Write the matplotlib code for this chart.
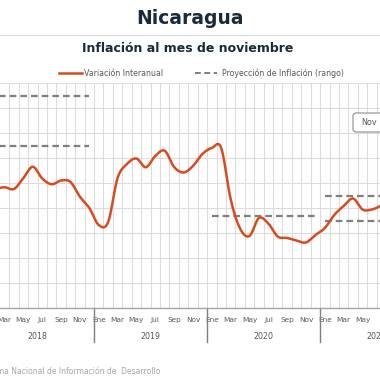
import numpy as np
import matplotlib.pyplot as plt
import matplotlib.transforms as mtransforms
from matplotlib.lines import Line2D
from matplotlib.patches import FancyBboxPatch

# Datos
meses = ['Ene', 'Feb', 'Mar', 'Abr', 'May', 'Jun', 'Jul', 'Ago', 'Sep', 'Oct', 'Nov', 'Dic']
anios = [2018, 2019, 2020, 2021]

# Variación interanual (%), de feb-2018 a jul-2021 (índice 0 = ene-2018)
inicio = 1
variacion = [4.76, 4.83, 4.76, 5.2, 5.65, 5.18, 4.95, 5.1, 5.04, 4.45, 4.0,
             3.32, 3.44, 5.2, 5.76, 5.98, 5.63, 6.08, 6.29, 5.64, 5.42, 5.68, 6.16,
             6.4, 6.4, 4.36, 3.18, 2.88, 3.6, 3.38, 2.86, 2.8, 2.7, 2.62, 2.92,
             3.2, 3.72, 4.08, 4.38, 3.94, 3.94, 4.1]

# Proyección de inflación (rango) por año
proy_anios = [2018, 2020, 2021]
proy_valores = [[6.5, 8.5], [3.7], [3.5, 4.5]]

ROJO = '#d84b20'
GRIS = '#7f7f7f'
TEXTO = '#595959'
AZUL = '#1b2a3a'


def suavizar(y, n=16):
    # curva tipo Catmull-Rom, como la línea suavizada de Excel
    y = np.asarray(y, float)
    yp = np.concatenate([[2 * y[0] - y[1]], y, [2 * y[-1] - y[-2]]])
    xs, ys = [], []
    t = np.linspace(0, 1, n, endpoint=False)
    for i in range(len(y) - 1):
        p0, p1, p2, p3 = yp[i], yp[i + 1], yp[i + 2], yp[i + 3]
        ys.append(0.5 * (2 * p1 + (-p0 + p2) * t + (2 * p0 - 5 * p1 + 4 * p2 - p3) * t ** 2
                         + (-p0 + 3 * p1 - 3 * p2 + p3) * t ** 3))
        xs.append(i + t)
    xs.append([len(y) - 1])
    ys.append([y[-1]])
    return np.concatenate(xs), np.concatenate(ys)


def fx(px):
    return px / 380


def fy(py):
    return 1 - py / 380


fig = plt.figure(figsize=(3.8, 3.8), dpi=100)
fig.patch.set_facecolor('white')

# Títulos
fig.text(0.5, fy(19), 'Nicaragua', ha='center', va='center', fontsize=13.5,
         fontweight='bold', color=AZUL)
fig.add_artist(Line2D([0, 1], [fy(35), fy(35)], color='#d9d9d9', lw=0.8))
fig.text(fx(188), fy(49), 'Inflación al mes de noviembre', ha='center', va='center',
         fontsize=9, fontweight='bold', color=AZUL)

# Leyenda
fig.add_artist(Line2D([fx(59), fx(82)], [fy(73), fy(73)], color=ROJO, lw=1.8))
fig.text(fx(84), fy(73), 'Variación Interanual', ha='left', va='center', fontsize=5.7, color=TEXTO)
fig.add_artist(Line2D([fx(195), fx(217)], [fy(73), fy(73)], color=GRIS, lw=1.4,
                      linestyle=(0, (3, 1.8))))
fig.text(fx(222), fy(73), 'Proyección de Inflación (rango)', ha='left', va='center',
         fontsize=5.7, color=TEXTO)

# Área del gráfico (recortada a los lados, como en la imagen)
ax = fig.add_axes([0, fy(308), 1, fy(83) - fy(308)])
paso = 9.42
n_meses = 12 * len(anios)
ax.set_yticks(range(0, 10))
ax.set_yticklabels([])
ax.tick_params(axis='y', length=0)
ax.set_xticks(range(0, n_meses, 2))
ax.set_xticklabels([meses[i % 12] for i in range(0, n_meses, 2)], fontsize=5.3, color=TEXTO)
ax.set_xticks(np.arange(n_meses + 1) - 0.5, minor=True)
ax.tick_params(axis='x', which='both', length=0, pad=6.5)
ax.grid(True, which='minor', axis='x', color='#dcdcdc', lw=0.8)
ax.grid(True, which='major', axis='y', color='#dcdcdc', lw=0.8)
ax.set_axisbelow(True)
for lado in ['left', 'right', 'top']:
    ax.spines[lado].set_visible(False)
ax.spines['bottom'].set_color('#a6a6a6')
ax.spines['bottom'].set_linewidth(1.0)

# Años y separadores
trans = mtransforms.blended_transform_factory(ax.transData, ax.transAxes)
for k, anio in enumerate(anios):
    ax.text(12 * k + 5.5, -0.125, str(anio), transform=trans, ha='center', va='center',
            fontsize=5.7, color=TEXTO, clip_on=False)
    ax.plot([12 * k - 0.5, 12 * k - 0.5], [0, -0.152], transform=trans, color='#7f7f7f',
            lw=1.0, clip_on=False)

# Proyecciones
for anio, vals in zip(proy_anios, proy_valores):
    k = anios.index(anio)
    for v in vals:
        ax.plot([12 * k, 12 * k + 11], [v, v], color=GRIS, lw=1.6, linestyle=(0, (3, 1.8)))

# Variación interanual
xs, ys = suavizar(variacion)
ax.plot(xs + inicio, ys, color=ROJO, lw=1.8, solid_capstyle='round')

ax.set_xlim(19 / paso - 0.5, 399 / paso - 0.5)
ax.set_ylim(0, 9)

# Etiqueta emergente
caja = FancyBboxPatch((fx(353), fy(132)), fx(45), fx(19),
                      boxstyle='round,pad=0,rounding_size=0.008', transform=fig.transFigure,
                      facecolor='white', edgecolor='#8c8c8c', lw=0.8)
fig.add_artist(caja)
fig.text(fx(369), fy(122.5), 'Nov', ha='center', va='center', fontsize=5.8, color=TEXTO)

# Fuente
fig.text(fx(160), fy(372), 'Fuente: Sistema Nacional de Información de  Desarrollo',
         ha='right', va='center', fontsize=5.5, color='#a6a6a6')

fig.savefig('out.png', dpi=100)
